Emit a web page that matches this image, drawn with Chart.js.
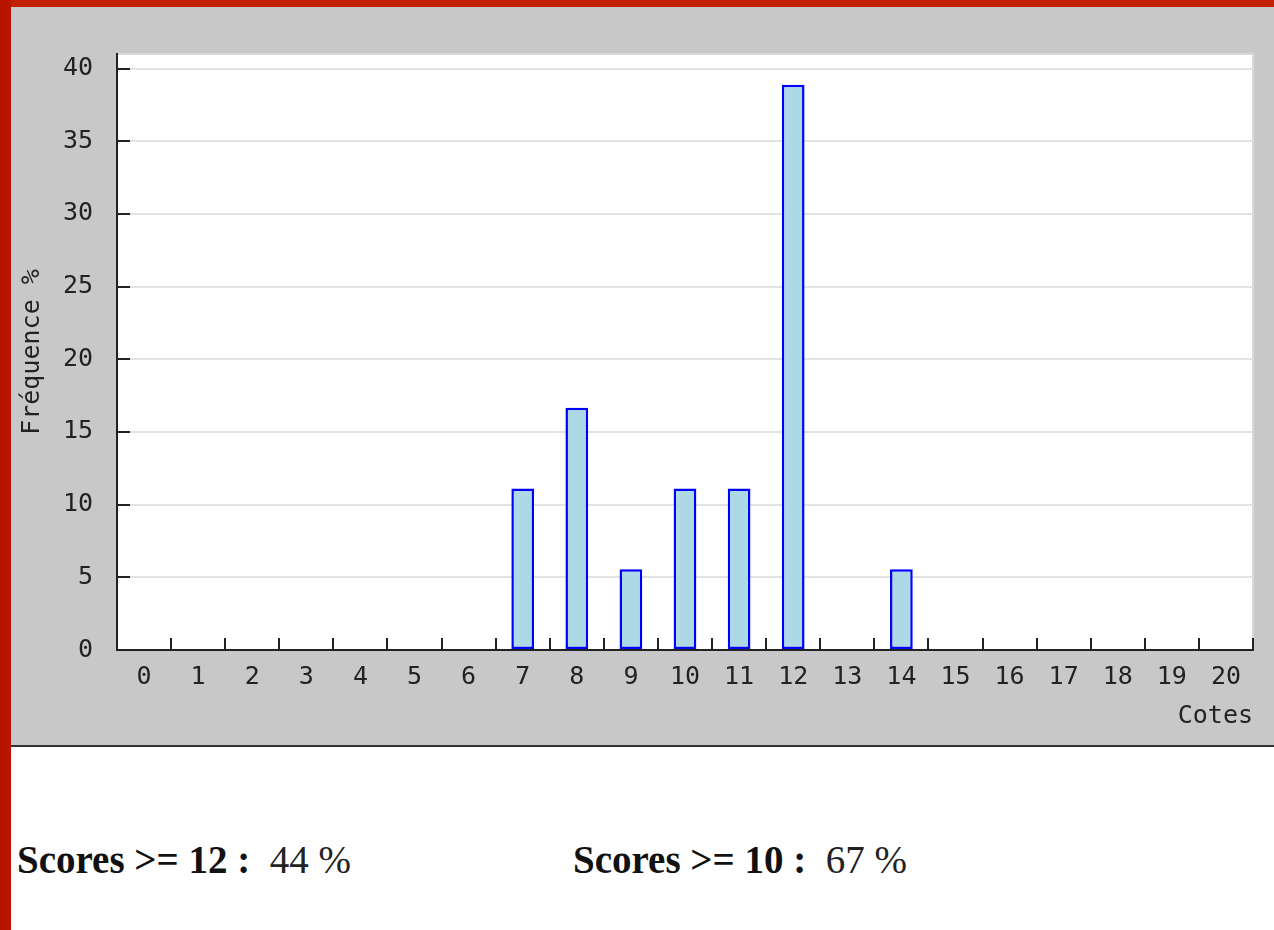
<!DOCTYPE html>
<html>
<head>
<meta charset="utf-8">
<script src="https://cdn.jsdelivr.net/npm/chart.js@4/dist/chart.umd.min.js"></script>
<style>
  html, body { margin: 0; padding: 0; background: #fff; }
  body { width: 1274px; height: 930px; position: relative; overflow: hidden; }
  #red-top { position: absolute; left: 0; top: 0; width: 1274px; height: 7px; background: #c02000; }
  #red-left { position: absolute; left: 0; top: 0; width: 11px; height: 930px; background: #b81400; }
  #panel { position: absolute; left: 11px; top: 7px; width: 1263px; height: 738px; background: #c8c8c8; border-bottom: 2px solid #333; }
  #chart-box { position: absolute; left: 0; top: 0; width: 1263px; height: 738px; }
  .score { position: absolute; top: 840px; font-family: "Liberation Serif", "Times New Roman", serif; font-size: 39px; line-height: 39px; color: #222; white-space: pre; }
  .score b { color: #111; }
</style>
</head>
<body>
<div id="red-top"></div>
<div id="red-left"></div>
<div id="panel">
  <div id="chart-box"><canvas id="freqChart"></canvas></div>
</div>
<div class="score" style="left:17px;"><b>Scores &gt;= 12 :</b>  44 %</div>
<div class="score" style="left:573px;"><b>Scores &gt;= 10 :</b>  67 %</div>

<script>
// ---- données ----
const cotes = ['0','1','2','3','4','5','6','7','8','9','10','11','12','13','14','15','16','17','18','19','20'];
const frequences = [0, 0, 0, 0, 0, 0, 0, 11.11, 16.67, 5.56, 11.11, 11.11, 38.89, 0, 5.56, 0, 0, 0, 0, 0, 0];
const yMax = 41;
const yStep = 5;

const monoFont = { family: '"DejaVu Sans Mono", monospace', size: 25 };

// fond blanc de la zone + petites graduations vers l'intérieur
const axisDecor = {
    id: 'axisDecor',
    beforeDraw(chart) {
        const { ctx, chartArea: a } = chart;
        ctx.save();
        ctx.fillStyle = '#fff';
        ctx.fillRect(a.left, a.top, a.right - a.left, a.bottom - a.top);
        ctx.strokeStyle = '#d8d8d8';
        ctx.lineWidth = 2;
        ctx.beginPath();
        ctx.moveTo(a.left, a.top);
        ctx.lineTo(a.right, a.top);
        ctx.lineTo(a.right, a.bottom);
        ctx.stroke();
        ctx.restore();
    },
    afterDraw(chart) {
        const { ctx } = chart;
        const x = chart.scales.x, y = chart.scales.y;
        ctx.save();
        ctx.strokeStyle = '#222';
        ctx.lineWidth = 2;
        ctx.beginPath();
        const half = (x.getPixelForValue(1) - x.getPixelForValue(0)) / 2;
        cotes.forEach((c, i) => {
            const px = Math.round(x.getPixelForValue(i) + half);
            ctx.moveTo(px, x.top);
            ctx.lineTo(px, x.top - 12);
        });
        y.ticks.forEach(t => {
            const py = Math.round(y.getPixelForValue(t.value));
            ctx.moveTo(y.right, py);
            ctx.lineTo(y.right + 13, py);
        });
        ctx.stroke();
        ctx.restore();
    }
};

window.onload = () => {
    const ctx = document.getElementById('freqChart').getContext('2d');
    window.freqChart = new Chart(ctx, {
        type: 'bar',
        data: {
            labels: cotes,
            datasets: [{
                data: frequences,
                backgroundColor: '#add8e6',
                borderColor: '#0000ff',
                borderWidth: 2.5,
                borderSkipped: false,
                categoryPercentage: 1,
                barPercentage: 0.42
            }]
        },
        options: {
            responsive: true,
            maintainAspectRatio: false,
            animation: false,
            layout: { padding: { top: 47, right: 21, left: 0, bottom: 0 } },
            plugins: { legend: { display: false }, tooltip: { enabled: false } },
            scales: {
                x: {
                    grid: { display: false, drawTicks: false },
                    border: { display: true, color: '#222', width: 2 },
                    ticks: { color: '#222', font: monoFont, padding: 12, maxRotation: 0, autoSkip: false },
                    title: { display: true, text: 'Cotes', align: 'end', color: '#222', font: monoFont, padding: { top: 4, bottom: 14 } },
                    afterFit: s => { s.height = 95; }
                },
                y: {
                    min: 0,
                    max: yMax,
                    grid: { color: '#e2e2e2', lineWidth: 2, drawTicks: false },
                    border: { display: true, color: '#222', width: 2 },
                    ticks: { stepSize: yStep, includeBounds: false, color: '#222', font: monoFont, padding: 24 },
                    title: { display: true, text: 'Fréquence %', color: '#222', font: monoFont, padding: { top: 6, bottom: 0 } },
                    afterFit: s => { s.width = 106; }
                }
            }
        },
        plugins: [axisDecor]
    });
};
</script>
</body>
</html>
